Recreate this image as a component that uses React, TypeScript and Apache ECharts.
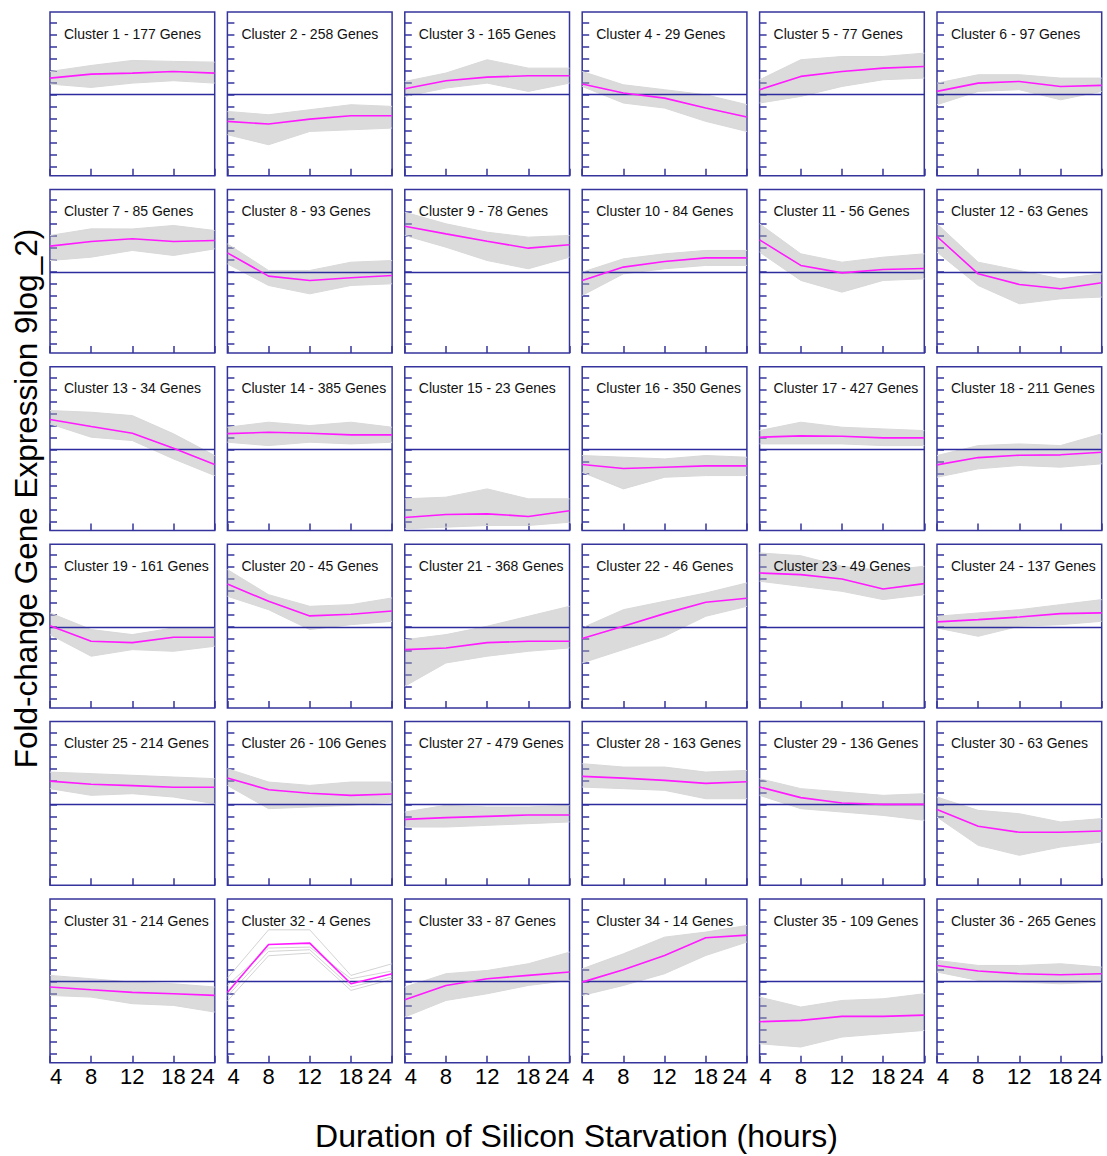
import React, { useEffect, useRef } from "react";
import * as echarts from "echarts";

// x-axis categories (hours of silicon starvation)
const hours = ["4", "8", "12", "18", "24"];
// y tick positions (log2 fold-change units)
const yTicks = [-6, -5, -4, -3, -2, -1, 0, 1, 2, 3, 4, 5, 6];

const geneCounts = [
  177, 258, 165, 29, 77, 97,
  85, 93, 78, 84, 56, 63,
  34, 385, 23, 350, 427, 211,
  161, 45, 368, 46, 49, 137,
  214, 106, 479, 163, 136, 63,
  214, 4, 87, 14, 109, 265,
];

// cluster mean profiles (magenta lines)
const meanProfiles: number[][] = [
  [1.39, 1.72, 1.8, 1.94, 1.8],
  [-2.22, -2.44, -2.03, -1.75, -1.75],
  [0.5, 1.17, 1.47, 1.58, 1.58],
  [0.89, 0.14, -0.28, -1.11, -1.86],
  [0.42, 1.53, 1.94, 2.22, 2.36],
  [0.28, 0.97, 1.11, 0.69, 0.78],
  [2.17, 2.56, 2.78, 2.56, 2.64],
  [1.61, -0.33, -0.69, -0.47, -0.28],
  [3.83, 3.19, 2.58, 2.0, 2.28],
  [-0.69, 0.42, 0.89, 1.19, 1.19],
  [2.69, 0.56, -0.06, 0.22, 0.31],
  [2.97, -0.14, -1.03, -1.39, -0.89],
  [2.5, 1.92, 1.36, 0.11, -1.25],
  [1.33, 1.44, 1.36, 1.22, 1.22],
  [-5.67, -5.42, -5.36, -5.58, -5.11],
  [-1.25, -1.58, -1.47, -1.36, -1.36],
  [1.03, 1.14, 1.11, 0.97, 0.97],
  [-1.28, -0.67, -0.47, -0.44, -0.22],
  [0.11, -1.19, -1.31, -0.86, -0.86],
  [3.58, 2.14, 0.92, 1.06, 1.33],
  [-1.89, -1.75, -1.31, -1.19, -1.19],
  [-0.97, 0.06, 1.11, 2.06, 2.39],
  [4.5, 4.36, 4.0, 3.17, 3.61],
  [0.42, 0.61, 0.83, 1.11, 1.17],
  [1.94, 1.67, 1.56, 1.42, 1.42],
  [2.19, 1.22, 0.92, 0.75, 0.86],
  [-1.25, -1.11, -1.0, -0.89, -0.89],
  [2.33, 2.19, 2.0, 1.75, 1.89],
  [1.44, 0.56, 0.11, 0.0, 0.0],
  [-0.42, -1.83, -2.33, -2.33, -2.22],
  [-0.44, -0.67, -0.89, -1.0, -1.14],
  [-0.9, 3.11, 3.22, -0.17, 0.67],
  [-1.5, -0.31, 0.25, 0.53, 0.81],
  [-0.03, 1.0, 2.19, 3.67, 3.89],
  [-3.33, -3.22, -2.89, -2.89, -2.78],
  [1.36, 0.89, 0.67, 0.58, 0.67],
];

// lower edge of each cluster's gene bundle (grey)
const bundleLow: (number[] | null)[] = [
  [0.89, 0.61, 0.97, 1.17, 0.97],
  [-3.33, -4.17, -3.06, -2.92, -2.78],
  [-0.14, 0.56, 0.97, 0.28, 0.97],
  [0.69, -0.69, -1.11, -2.22, -3.06],
  [-0.69, -0.14, 0.69, 1.25, 1.39],
  [-0.83, 0.28, 0.42, -0.42, 0.28],
  [0.97, 1.25, 1.81, 1.39, 1.94],
  [0.69, -1.11, -1.81, -1.11, -0.97],
  [3.06, 2.08, 0.97, 0.28, 1.25],
  [-1.94, -0.14, 0.28, 0.56, 0.56],
  [1.67, -0.69, -1.67, -0.69, -0.56],
  [1.67, -1.11, -2.64, -2.22, -2.08],
  [2.14, 1.03, 0.75, -0.78, -2.17],
  [0.61, 0.33, 0.61, 0.47, 0.61],
  [-6.61, -6.47, -6.33, -6.33, -6.06],
  [-1.89, -3.28, -2.31, -2.17, -2.17],
  [0.47, 0.47, 0.47, 0.33, 0.33],
  [-2.31, -1.61, -1.33, -1.47, -1.19],
  [-0.64, -2.44, -1.89, -2.03, -1.61],
  [2.56, 1.44, -0.22, 0.19, 0.47],
  [-4.94, -3.0, -2.44, -2.03, -1.75],
  [-3.0, -1.89, -0.78, 0.89, 1.72],
  [3.81, 3.39, 2.97, 2.28, 2.69],
  [-0.08, -0.78, 0.06, 0.19, 0.47],
  [1.31, 0.75, 0.89, 0.61, 0.06],
  [1.58, -0.36, -0.22, -0.08, 0.19],
  [-1.89, -1.89, -1.75, -1.61, -1.47],
  [1.44, 1.31, 1.17, 0.47, 0.47],
  [0.75, -0.36, -0.64, -0.92, -1.33],
  [-1.06, -3.42, -4.25, -3.56, -3.14],
  [-1.14, -1.28, -1.83, -1.97, -2.53],
  null,
  [-2.94, -1.56, -1.0, -0.31, 0.11],
  [-1.14, -0.31, 0.67, 2.19, 3.31],
  [-5.17, -5.44, -4.61, -4.33, -4.06],
  [0.81, 0.11, -0.03, -0.17, -0.03],
];

// upper edge of each cluster's gene bundle (grey)
const bundleHigh: (number[] | null)[] = [
  [1.94, 2.44, 2.86, 2.78, 2.72],
  [-1.39, -1.67, -1.25, -0.83, -0.97],
  [1.11, 1.81, 2.92, 2.22, 2.22],
  [1.94, 0.83, 0.42, 0.0, -0.83],
  [1.25, 2.92, 3.19, 3.19, 3.47],
  [0.97, 1.67, 1.67, 1.39, 1.39],
  [3.06, 3.61, 3.6, 3.89, 3.47],
  [2.36, 0.14, 0.14, 0.83, 0.97],
  [5.0, 4.03, 3.33, 2.92, 3.06],
  [0.0, 1.11, 1.53, 1.81, 1.81],
  [4.03, 1.53, 0.83, 1.25, 1.53],
  [4.03, 0.83, 0.14, -0.56, -0.14],
  [3.25, 3.11, 2.83, 1.31, -0.5],
  [1.86, 2.28, 2.0, 2.28, 1.86],
  [-4.11, -3.97, -3.28, -4.11, -4.11],
  [-0.5, -0.64, -0.78, -0.5, -0.64],
  [1.58, 2.28, 1.86, 1.72, 1.58],
  [-0.5, 0.33, 0.47, 0.33, 1.31],
  [1.17, -0.22, -0.64, -0.08, -0.08],
  [4.78, 2.69, 1.72, 1.86, 2.42],
  [-1.06, -0.64, 0.06, 0.89, 1.72],
  [-0.08, 1.44, 2.14, 2.83, 3.67],
  [6.17, 5.94, 5.06, 4.69, 5.06],
  [0.89, 1.17, 1.44, 1.86, 2.28],
  [2.69, 2.56, 2.42, 2.28, 2.14],
  [2.97, 1.86, 1.58, 1.86, 1.86],
  [-0.64, -0.08, -0.22, -0.22, -0.08],
  [3.39, 3.11, 3.11, 2.69, 2.83],
  [2.14, 1.31, 1.03, 0.75, 0.89],
  [0.61, -0.5, -0.78, -1.47, -1.19],
  [0.53, 0.25, -0.03, -0.17, -0.44],
  null,
  [-0.44, 0.67, 0.94, 1.5, 2.47],
  [1.08, 2.33, 3.72, 4.14, 4.69],
  [-1.28, -2.11, -1.56, -1.42, -1.0],
  [1.78, 1.36, 1.36, 1.5, 1.22],
];

// individual gene profiles of cluster 32 (only 4 genes)
const cluster32Genes: number[][] = [
  [0.3, 4.33, 4.33, 0.53, 1.5],
  [-0.3, 2.81, 2.89, 0.25, 0.9],
  [-1.2, 2.53, 2.67, -0.44, 0.4],
  [-1.6, 2.17, 2.39, -0.72, 0.2],
];

const FONT = "'Liberation Sans', Arial, Helvetica, sans-serif";
const NAVY = "#34349c";
const ZERO = "#2c2c9e";
const MAGENTA = "#ff1aff";

export default function App() {
  const ref = useRef<HTMLDivElement>(null);

  useEffect(() => {
    if (!ref.current) return;
    const chart = echarts.init(ref.current, undefined, { renderer: "svg" });

    const cols = 6;
    const rows = 6;
    const left0 = 50;
    const top0 = 12;
    const stepX = 177.4;
    const stepY = 177.4;
    const w = 164.7;
    const h = 163.7;

    const grids: any[] = [];
    const xAxes: any[] = [];
    const yAxes: any[] = [];
    const series: any[] = [];
    const graphics: any[] = [];

    const zeroMark = {
      silent: true,
      symbol: "none",
      label: { show: false },
      lineStyle: { color: ZERO, width: 1.4, type: "solid" },
      data: [{ yAxis: 0 }],
    };

    for (let i = 0; i < cols * rows; i++) {
      const r = Math.floor(i / cols);
      const c = i % cols;
      const left = left0 + c * stepX;
      const top = top0 + r * stepY;
      grids.push({
        left,
        top,
        width: w,
        height: h,
        show: true,
        borderColor: NAVY,
        borderWidth: 1.5,
        backgroundColor: "transparent",
        containLabel: false,
      });
      xAxes.push({
        type: "category",
        gridIndex: i,
        data: hours,
        boundaryGap: false,
        position: "bottom",
        axisLine: { show: false, onZero: false },
        axisTick: { show: true, inside: true, length: 7, lineStyle: { color: NAVY, width: 1.5 } },
        splitLine: { show: false },
        axisLabel: {
          show: r === rows - 1,
          color: "#000",
          fontSize: 22,
          fontFamily: FONT,
          margin: 3,
          interval: 0,
          alignMinLabel: "left",
          alignMaxLabel: "right",
        },
      });
      yAxes.push({
        type: "value",
        gridIndex: i,
        min: -6.75,
        max: 6.9,
        axisLine: { show: false, onZero: false },
        axisTick: {
          show: true,
          inside: true,
          length: 7,
          customValues: yTicks,
          lineStyle: { color: NAVY, width: 1.5 },
        },
        axisLabel: { show: false },
        splitLine: { show: false },
      });

      // zero reference line (drawn beneath the gene bundle)
      series.push({
        type: "line",
        xAxisIndex: i,
        yAxisIndex: i,
        data: [],
        silent: true,
        z: 1,
        markLine: zeroMark,
      });

      const lo = bundleLow[i];
      const hi = bundleHigh[i];
      if (lo && hi) {
        series.push({
          type: "line",
          xAxisIndex: i,
          yAxisIndex: i,
          data: lo,
          stack: "band" + i,
          stackStrategy: "all",
          symbol: "none",
          lineStyle: { color: "#d9d9d9", width: 1 },
          silent: true,
          z: 2,
        });
        series.push({
          type: "line",
          xAxisIndex: i,
          yAxisIndex: i,
          data: hi.map((v, k) => v - lo[k]),
          stack: "band" + i,
          stackStrategy: "all",
          symbol: "none",
          lineStyle: { color: "#d9d9d9", width: 1 },
          areaStyle: { color: "rgba(172,172,172,0.62)" },
          silent: true,
          z: 2,
        });
      } else {
        cluster32Genes.forEach((g) => {
          series.push({
            type: "line",
            xAxisIndex: i,
            yAxisIndex: i,
            data: g,
            symbol: "none",
            lineStyle: { color: "rgba(200,200,200,0.8)", width: 1 },
            silent: true,
            z: 2,
          });
        });
      }
      series.push({
        type: "line",
        xAxisIndex: i,
        yAxisIndex: i,
        data: meanProfiles[i],
        symbol: "none",
        lineStyle: { color: MAGENTA, width: 1.6 },
        silent: true,
        z: 5,
      });

      graphics.push({
        type: "text",
        x: left + 14,
        y: top + 21.5,
        style: {
          text: `Cluster ${i + 1} - ${geneCounts[i]} Genes`,
          fontSize: 14,
          fontFamily: FONT,
          fill: "#111",
          verticalAlign: "middle",
          align: "left",
        },
        z: 10,
      });
    }

    graphics.push({
      type: "text",
      x: 26,
      y: 498.5,
      rotation: Math.PI / 2,
      style: {
        text: "Fold-change Gene Expression 9log_2)",
        fontSize: 31.5,
        fontFamily: FONT,
        fill: "#000",
        align: "center",
        verticalAlign: "middle",
      },
    });
    graphics.push({
      type: "text",
      x: 576.5,
      y: 1136,
      style: {
        text: "Duration of Silicon Starvation (hours)",
        fontSize: 32,
        fontFamily: FONT,
        fill: "#000",
        align: "center",
        verticalAlign: "middle",
      },
    });

    chart.setOption({
      animation: false,
      backgroundColor: "#fff",
      grid: grids,
      xAxis: xAxes,
      yAxis: yAxes,
      series,
      graphic: graphics,
    });

    return () => chart.dispose();
  }, []);

  return (
    <div
      ref={ref}
      style={{ position: "absolute", left: 0, top: 0, width: 1107, height: 1156 }}
    />
  );
}
